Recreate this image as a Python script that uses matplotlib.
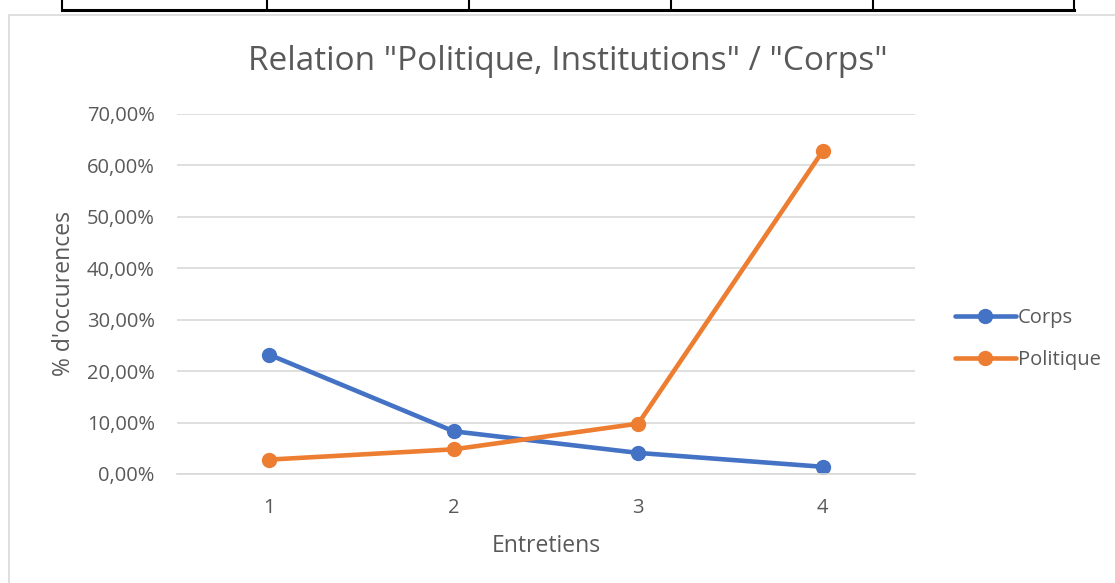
import numpy as np
import matplotlib.pyplot as plt
from matplotlib.ticker import FuncFormatter
from matplotlib.lines import Line2D
from matplotlib.patches import Rectangle

plt.rcParams['font.family'] = ['Open Sans', 'DejaVu Sans']

entretiens = [1, 2, 3, 4]
corps = [23.2, 8.3, 4.1, 1.4]
politique = [2.8, 4.8, 9.8, 62.8]
yticks = [0, 10, 20, 30, 40, 50, 60, 70]

blue = '#4472c4'
orange = '#ed7d31'
grey_txt = '#595959'

fig = plt.figure(figsize=(11.15, 5.83), dpi=100)

# table fragment at the top of the page
fig.add_artist(Line2D([62/1115, 1074/1115], [1 - 10/583] * 2, color='black', lw=2.2, transform=fig.transFigure))
for xv in [62, 267, 469, 671, 873, 1074]:
    fig.add_artist(Line2D([xv/1115] * 2, [1, 1 - 10/583], color='black', lw=1.5, transform=fig.transFigure))

# chart area border
fig.add_artist(Rectangle((9/1115, -0.1), 1.2, 1 - 15/583 + 0.1, fill=False, ec='#d9d9d9', lw=1.2,
                         transform=fig.transFigure))

ax = fig.add_axes([177/1115, 1 - 474/583, (915 - 177)/1115, (474 - 114)/583])
ax.plot(entretiens, corps, color=blue, lw=3.3, marker='o', ms=10, label='Corps', solid_capstyle='round')
ax.plot(entretiens, politique, color=orange, lw=3.3, marker='o', ms=10, label='Politique', solid_capstyle='round')

ax.set_xlim(0.5, 4.5)
ax.set_ylim(0, 70)
ax.set_yticks(yticks)
ax.yaxis.set_major_formatter(FuncFormatter(lambda v, p: ('%.2f%%' % v).replace('.', ',')))
ax.set_xticks(entretiens)
ax.grid(axis='y', color='#d9d9d9', lw=1.2)
ax.set_axisbelow(True)
for s in ['top', 'right', 'left']:
    ax.spines[s].set_visible(False)
ax.spines['bottom'].set_color('#d9d9d9')
ax.spines['bottom'].set_linewidth(1.2)
ax.tick_params(length=0, labelsize=14.5, colors=grey_txt)
ax.tick_params(axis='y', pad=16)
ax.tick_params(axis='x', pad=17)

fig.text(568/1115, 1 - 62/583, 'Relation "Politique, Institutions" / "Corps"', fontsize=24, color=grey_txt,
         ha='center', va='center')
ax.set_xlabel('Entretiens', fontsize=16.5, color=grey_txt, labelpad=12)
ax.set_ylabel("% d'occurences", fontsize=16.5, color=grey_txt, labelpad=8)

leg = ax.legend(loc='center left', bbox_to_anchor=(1.03, 0.375), frameon=False, fontsize=14.5,
                handlelength=3.0, handletextpad=0.1, labelspacing=1.05, labelcolor=grey_txt)

fig.savefig('out.png', dpi=100)
